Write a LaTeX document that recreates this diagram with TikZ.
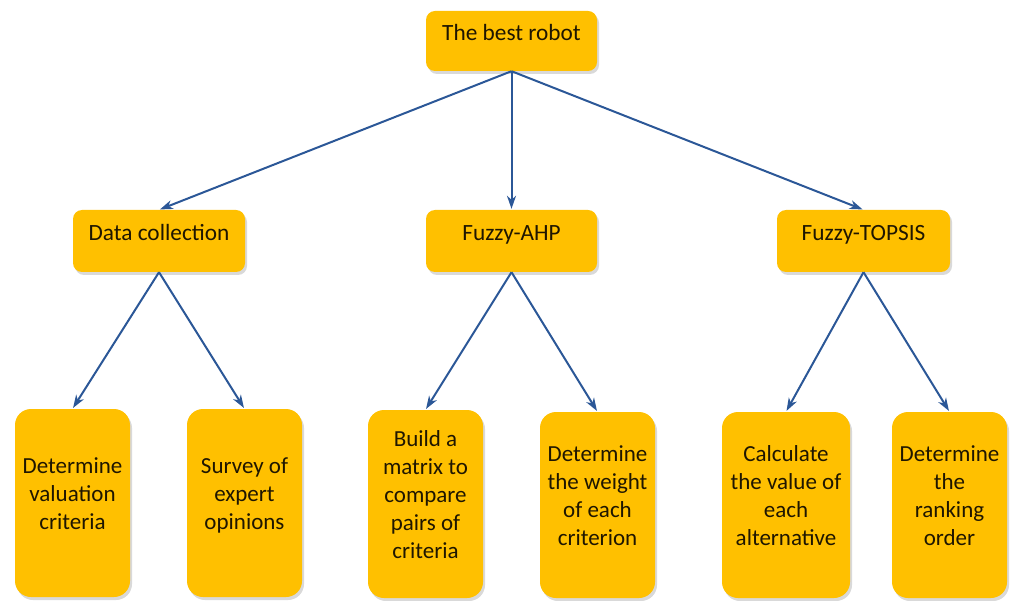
\documentclass[tikz,border=0pt]{standalone}
\usepackage{fontspec}
\setmainfont{Carlito}
\usetikzlibrary{arrows.meta,shadows}
\definecolor{boxgold}{HTML}{FFC000}
\definecolor{txtdark}{HTML}{1F1600}
\definecolor{arrblue}{HTML}{2B5797}
\newcommand{\liftup}{\\[-9pt]\mbox{}}
\tikzset{
  upbox/.style={draw=none, fill=boxgold, rounded corners=9pt, text=txtdark,
    font=\fontsize{23.3}{28}\selectfont, text height=0pt, text depth=0pt,
    drop shadow={shadow xshift=2pt, shadow yshift=-3pt, opacity=0.3}},
  lowbox/.style={draw=none, fill=boxgold, rounded corners=16pt, text=txtdark,
    font=\fontsize{23}{28}\selectfont, align=center, minimum height=188pt,
    drop shadow={shadow xshift=2pt, shadow yshift=-3pt, opacity=0.3}},
  arr/.style={draw=arrblue, line width=2pt,
    -{Stealth[length=13pt,width=9pt,inset=4pt]}, shorten >=1pt}
}
\begin{document}
\begin{tikzpicture}[x=1pt,y=-1pt]
\useasboundingbox (0,0) rectangle (1011,601);
% top
\node[upbox, minimum width=171pt, minimum height=60pt] (top) at (511.5,41) {The best robot};
% level 2
\node[upbox, minimum width=172pt, minimum height=62pt] (dc) at (159,241) {Data collection};
\node[upbox, minimum width=171pt, minimum height=62pt] (ahp) at (511.5,241) {Fuzzy-AHP};
\node[upbox, minimum width=173pt, minimum height=62pt] (tops) at (863.5,241) {Fuzzy-TOPSIS};
% level 3
\node[lowbox, minimum width=115pt] (b1) at (72.5,503) {Determine\\valuation\\criteria\liftup};
\node[lowbox, minimum width=115pt] (b2) at (244.5,503) {Survey of\\expert\\opinions\liftup};
\node[lowbox, minimum width=115pt] (b3) at (425.5,504) {Build a\\matrix to\\compare\\pairs of\\criteria\liftup};
\node[lowbox, minimum width=115pt, minimum height=186pt] (b4) at (597.5,505) {Determine\\the weight\\of each\\criterion\liftup};
\node[lowbox, minimum width=128pt, minimum height=186pt] (b5) at (786,505) {Calculate\\the value of\\each\\alternative\liftup};
\node[lowbox, minimum width=115pt, minimum height=186pt] (b6) at (949.5,505) {Determine\\the\\ranking\\order\liftup};
% connectors
\draw[arr] (top.south) -- (dc.north);
\draw[arr] (top.south) -- (ahp.north);
\draw[arr] (top.south) -- (tops.north);
\draw[arr] (dc.south) -- (b1.north);
\draw[arr] (dc.south) -- (b2.north);
\draw[arr] (ahp.south) -- (b3.north);
\draw[arr] (ahp.south) -- (b4.north);
\draw[arr] (tops.south) -- (b5.north);
\draw[arr] (tops.south) -- (b6.north);
\end{tikzpicture}
\end{document}
